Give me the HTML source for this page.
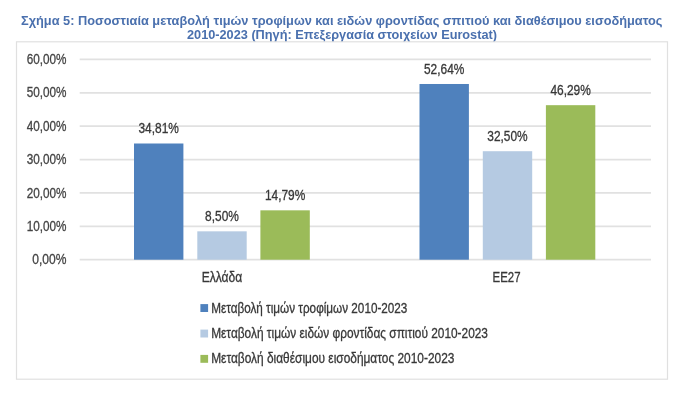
<!DOCTYPE html>
<html><head><meta charset="utf-8">
<style>
html,body{margin:0;padding:0;background:#fff;}
body{width:700px;height:403px;overflow:hidden;}
svg{display:block;will-change:transform;}
text{font-family:"Liberation Sans", sans-serif;}
</style></head><body>
<svg width="700" height="403" viewBox="0 0 700 403">

<text x="21.00" y="24.60" font-size="12" fill="#4A70AE" font-weight="bold" textLength="641.5" lengthAdjust="spacingAndGlyphs">Σχήμα 5: Ποσοστιαία μεταβολή τιμών τροφίμων και ειδών φροντίδας σπιτιού και διαθέσιμου εισοδήματος</text>
<text x="187.00" y="38.70" font-size="12" fill="#4A70AE" font-weight="bold" textLength="310" lengthAdjust="spacingAndGlyphs">2010-2023 (Πηγή: Επεξεργασία στοιχείων Eurostat)</text>
<rect x="16.5" y="41.8" width="651" height="337.4" fill="none" stroke="#E0E0E0" stroke-width="1.2"/>
<line x1="79.7" x2="651" y1="259.70" y2="259.70" stroke="#E1E1E1" stroke-width="1.8"/>
<line x1="79.7" x2="651" y1="226.32" y2="226.32" stroke="#E1E1E1" stroke-width="1.8"/>
<line x1="79.7" x2="651" y1="192.94" y2="192.94" stroke="#E1E1E1" stroke-width="1.8"/>
<line x1="79.7" x2="651" y1="159.56" y2="159.56" stroke="#E1E1E1" stroke-width="1.8"/>
<line x1="79.7" x2="651" y1="126.18" y2="126.18" stroke="#E1E1E1" stroke-width="1.8"/>
<line x1="79.7" x2="651" y1="92.80" y2="92.80" stroke="#E1E1E1" stroke-width="1.8"/>
<line x1="79.7" x2="651" y1="59.42" y2="59.42" stroke="#E1E1E1" stroke-width="1.8"/>
<text x="66.50" y="264.30" font-size="14.2" fill="#444444" text-anchor="end" stroke="#444444" stroke-width="0.3" textLength="34.2" lengthAdjust="spacingAndGlyphs">0,00%</text>
<text x="66.50" y="230.92" font-size="14.2" fill="#444444" text-anchor="end" stroke="#444444" stroke-width="0.3" textLength="39.8" lengthAdjust="spacingAndGlyphs">10,00%</text>
<text x="66.50" y="197.54" font-size="14.2" fill="#444444" text-anchor="end" stroke="#444444" stroke-width="0.3" textLength="39.8" lengthAdjust="spacingAndGlyphs">20,00%</text>
<text x="66.50" y="164.16" font-size="14.2" fill="#444444" text-anchor="end" stroke="#444444" stroke-width="0.3" textLength="39.8" lengthAdjust="spacingAndGlyphs">30,00%</text>
<text x="66.50" y="130.78" font-size="14.2" fill="#444444" text-anchor="end" stroke="#444444" stroke-width="0.3" textLength="39.8" lengthAdjust="spacingAndGlyphs">40,00%</text>
<text x="66.50" y="97.40" font-size="14.2" fill="#444444" text-anchor="end" stroke="#444444" stroke-width="0.3" textLength="39.8" lengthAdjust="spacingAndGlyphs">50,00%</text>
<text x="66.50" y="64.02" font-size="14.2" fill="#444444" text-anchor="end" stroke="#444444" stroke-width="0.3" textLength="39.8" lengthAdjust="spacingAndGlyphs">60,00%</text>
<rect x="134.00" y="143.50" width="49.4" height="116.20" fill="#4F81BD"/>
<text x="158.70" y="133.10" font-size="14.2" fill="#383838" text-anchor="middle" stroke="#383838" stroke-width="0.3" textLength="40.4" lengthAdjust="spacingAndGlyphs">34,81%</text>
<rect x="197.30" y="231.33" width="49.4" height="28.37" fill="#B5CAE2"/>
<text x="222.00" y="220.93" font-size="14.2" fill="#383838" text-anchor="middle" stroke="#383838" stroke-width="0.3" textLength="33.8" lengthAdjust="spacingAndGlyphs">8,50%</text>
<rect x="260.40" y="210.33" width="49.4" height="49.37" fill="#9BBB59"/>
<text x="285.10" y="199.93" font-size="14.2" fill="#383838" text-anchor="middle" stroke="#383838" stroke-width="0.3" textLength="40.4" lengthAdjust="spacingAndGlyphs">14,79%</text>
<rect x="419.50" y="83.99" width="49.4" height="175.71" fill="#4F81BD"/>
<text x="444.20" y="73.59" font-size="14.2" fill="#383838" text-anchor="middle" stroke="#383838" stroke-width="0.3" textLength="40.4" lengthAdjust="spacingAndGlyphs">52,64%</text>
<rect x="482.80" y="151.21" width="49.4" height="108.48" fill="#B5CAE2"/>
<text x="507.50" y="140.81" font-size="14.2" fill="#383838" text-anchor="middle" stroke="#383838" stroke-width="0.3" textLength="40.4" lengthAdjust="spacingAndGlyphs">32,50%</text>
<rect x="545.90" y="105.18" width="49.4" height="154.52" fill="#9BBB59"/>
<text x="570.60" y="94.78" font-size="14.2" fill="#383838" text-anchor="middle" stroke="#383838" stroke-width="0.3" textLength="40.4" lengthAdjust="spacingAndGlyphs">46,29%</text>
<text x="222.00" y="281.50" font-size="14.2" fill="#383838" text-anchor="middle" stroke="#383838" stroke-width="0.3" textLength="40.6" lengthAdjust="spacingAndGlyphs">Ελλάδα</text>
<text x="506.60" y="281.50" font-size="14.2" fill="#383838" text-anchor="middle" stroke="#383838" stroke-width="0.3" textLength="28" lengthAdjust="spacingAndGlyphs">EE27</text>
<rect x="200.4" y="304.10" width="7.7" height="7.9" fill="#4F81BD"/>
<text x="211.20" y="312.70" font-size="14.2" fill="#383838" stroke="#383838" stroke-width="0.3" textLength="196.2" lengthAdjust="spacingAndGlyphs">Μεταβολή τιμών τροφίμων 2010-2023</text>
<rect x="200.4" y="329.60" width="7.7" height="7.9" fill="#B5CAE2"/>
<text x="211.20" y="338.20" font-size="14.2" fill="#383838" stroke="#383838" stroke-width="0.3" textLength="276.8" lengthAdjust="spacingAndGlyphs">Μεταβολή τιμών ειδών φροντίδας σπιτιού 2010-2023</text>
<rect x="200.4" y="354.90" width="7.7" height="7.9" fill="#9BBB59"/>
<text x="211.20" y="363.20" font-size="14.2" fill="#383838" stroke="#383838" stroke-width="0.3" textLength="243.2" lengthAdjust="spacingAndGlyphs">Μεταβολή διαθέσιμου εισοδήματος 2010-2023</text>
</svg>
</body></html>
